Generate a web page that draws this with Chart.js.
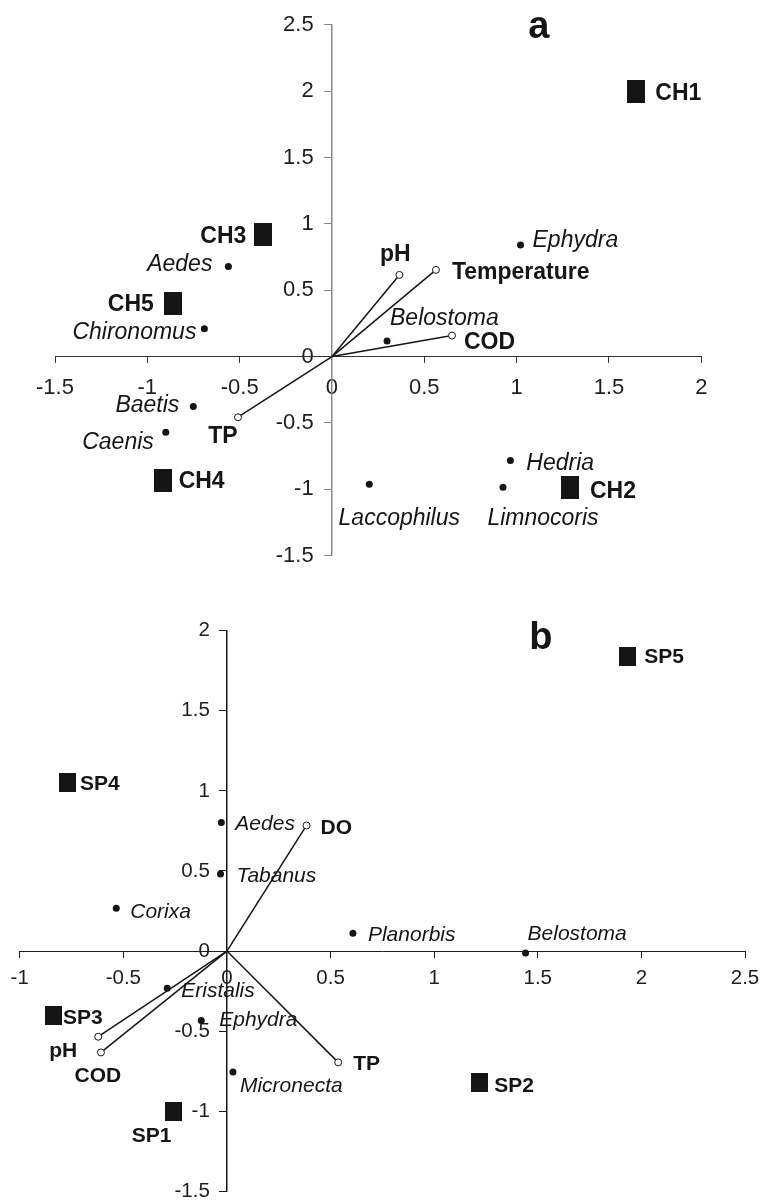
<!DOCTYPE html>
<html>
<head>
<meta charset="utf-8">
<script src="https://cdn.jsdelivr.net/npm/chart.js@4"></script>
<style>
  html, body { margin: 0; padding: 0; background: #fff; overflow: hidden; }
  #wrap { position: relative; width: 772px; height: 1202px; }
  canvas { position: absolute; left: 0; }
  #chart_a { top: 0; }
  #chart_b { top: 580px; }
</style>
</head>
<body>
<div id="wrap">
  <canvas id="chart_a" width="772" height="580"></canvas>
  <canvas id="chart_b" width="772" height="640"></canvas>
</div>
<script>
'use strict';

// パネル a
const sitesA = ['CH1', 'CH2', 'CH3', 'CH4', 'CH5'];
const sitesAX = [1.648, 1.289, -0.372, -0.917, -0.862];
const sitesAY = [2.0, -0.986, 0.916, -0.936, 0.397];

const speciesA = ['Aedes', 'Chironomus', 'Baetis', 'Caenis', 'Belostoma', 'Ephydra', 'Hedria', 'Laccophilus', 'Limnocoris'];
const speciesAX = [-0.561, -0.691, -0.751, -0.900, 0.298, 1.021, 0.966, 0.202, 0.926];
const speciesAY = [0.678, 0.209, -0.377, -0.570, 0.118, 0.841, -0.783, -0.961, -0.984];

const envA = ['pH', 'Temperature', 'COD', 'TP'];
const envAX = [0.365, 0.563, 0.650, -0.509];
const envAY = [0.615, 0.653, 0.158, -0.457];

const ticksAX = [-1.5, -1, -0.5, 0, 0.5, 1, 1.5, 2];
const ticksAY = [-1.5, -1, -0.5, 0, 0.5, 1, 1.5, 2, 2.5];

// パネル b
const sitesB = ['SP1', 'SP2', 'SP3', 'SP4', 'SP5'];
const sitesBX = [-0.257, 1.217, -0.839, -0.767, 1.932];
const sitesBY = [-1.0, -0.822, -0.405, 1.053, 1.842];

const speciesB = ['Aedes', 'Tabanus', 'Corixa', 'Planorbis', 'Belostoma', 'Eristalis', 'Ephydra', 'Micronecta'];
const speciesBX = [-0.027, -0.031, -0.534, 0.608, 1.441, -0.288, -0.124, 0.029];
const speciesBY = [0.802, 0.481, 0.267, 0.111, -0.012, -0.232, -0.434, -0.755];

const envB = ['DO', 'pH', 'COD', 'TP'];
const envBX = [0.384, -0.621, -0.608, 0.537];
const envBY = [0.784, -0.535, -0.633, -0.695];

const ticksBX = [-1, -0.5, 0, 0.5, 1, 1.5, 2, 2.5];
const ticksBY = [-1.5, -1, -0.5, 0, 0.5, 1, 1.5, 2];

// ラベルの位置 (px) [dx, dy, align]
const offSitesA = [[19, 3, 'left'], [20, 4, 'left'], [-17, 2, 'right'], [16, 1, 'left'], [-19, 1, 'right']];
const offSpeciesA = [[-16, -2, 'right'], [-8, 4, 'right'], [-14, -1, 'right'], [-12, 10, 'right'],
  [3, -22, 'left'], [12, -4, 'left'], [16, 3, 'left'], [30, 34, 'center'], [40, 31, 'center']];
const offEnvA = [[-4, -20, 'center'], [16, 3, 'left'], [12, 7, 'left'], [-15, 19, 'center']];

const offSitesB = [[-22, 25, 'center'], [15, 3, 'left'], [10, 2, 'left'], [12, 2, 'left'], [17, 1, 'left']];
const offSpeciesB = [[14, 2, 'left'], [16, 2, 'left'], [14, 4, 'left'], [15, 2, 'left'],
  [2, -19, 'left'], [14, 3, 'left'], [18, 0, 'left'], [7, 14, 'left']];
const offEnvB = [[14, 3, 'left'], [-35, 14, 'center'], [-3, 24, 'center'], [15, 2, 'left']];

const FONT = '"Liberation Sans", Arial, sans-serif';
const INK = '#151515';

function block(w, h) {
  const c = document.createElement('canvas');
  c.width = w;
  c.height = h;
  const g = c.getContext('2d');
  g.fillStyle = INK;
  g.fillRect(0, 0, w, h);
  return c;
}

function pts(xs, ys) {
  return xs.map((x, i) => ({ x: x, y: ys[i] }));
}

const pointLabels = {
  id: 'pointLabels',
  afterDatasetsDraw(chart, args, opts) {
    const ctx = chart.ctx;
    chart.data.datasets.forEach((ds, i) => {
      if (!ds.names) return;
      const meta = chart.getDatasetMeta(i);
      ctx.save();
      ctx.font = ds.labelFont;
      ctx.fillStyle = INK;
      ctx.textBaseline = 'middle';
      ds.names.forEach((name, j) => {
        if (!name) return;
        const el = meta.data[j];
        const o = ds.offsets[j];
        ctx.textAlign = o[2];
        ctx.fillText(name, el.x + o[0], el.y + o[1]);
      });
      ctx.restore();
    });
    if (opts.letter) {
      const sx = chart.scales.x, sy = chart.scales.y;
      ctx.save();
      ctx.font = 'bold 38px ' + FONT;
      ctx.fillStyle = INK;
      ctx.textAlign = 'center';
      ctx.textBaseline = 'middle';
      ctx.fillText(opts.letter, sx.getPixelForValue(opts.at[0]), sy.getPixelForValue(opts.at[1]) + 3);
      ctx.restore();
    }
  }
};

function vectorSets(names, xs, ys, offs, font) {
  return names.map((n, i) => ({
    type: 'line',
    data: [{ x: 0, y: 0 }, { x: xs[i], y: ys[i] }],
    borderColor: INK,
    borderWidth: 1.5,
    pointRadius: [0, 3.5],
    pointBackgroundColor: '#fff',
    pointBorderColor: INK,
    pointBorderWidth: 1,
    names: [null, n],
    offsets: [null, offs[i]],
    labelFont: font
  }));
}

function makeChart(id, cfg) {
  const ctx = document.getElementById(id).getContext('2d');
  const tickFont = { family: FONT, size: cfg.tickSize };
  return new Chart(ctx, {
    type: 'scatter',
    data: {
      datasets: [
        {
          data: pts(cfg.sx, cfg.sy),
          pointStyle: block(cfg.blockW, cfg.blockH),
          pointRadius: 10,
          names: cfg.sites,
          offsets: cfg.offSites,
          labelFont: 'bold ' + cfg.labelSize + 'px ' + FONT
        },
        {
          data: pts(cfg.px, cfg.py),
          pointRadius: 3.5,
          pointBackgroundColor: INK,
          pointBorderWidth: 0,
          names: cfg.species,
          offsets: cfg.offSpecies,
          labelFont: 'italic ' + cfg.labelSize + 'px ' + FONT
        }
      ].concat(vectorSets(cfg.env, cfg.ex, cfg.ey, cfg.offEnv, 'bold ' + cfg.labelSize + 'px ' + FONT))
    },
    options: {
      responsive: false,
      animation: false,
      devicePixelRatio: 1,
      layout: { padding: cfg.padding },
      plugins: {
        legend: { display: false },
        tooltip: { enabled: false },
        pointLabels: { letter: cfg.letter, at: cfg.letterAt }
      },
      scales: {
        x: {
          type: 'linear',
          min: cfg.tx[0],
          max: cfg.tx[cfg.tx.length - 1],
          position: { y: 0 },
          afterBuildTicks: s => { s.ticks = cfg.tx.map(v => ({ value: v })); },
          grid: { drawOnChartArea: false, tickLength: 6, color: cfg.xColor, lineWidth: 1 },
          border: { color: cfg.xColor, width: 1 },
          ticks: { font: tickFont, color: '#1e1e1e', padding: cfg.xPad, maxRotation: 0, autoSkip: false, callback: v => String(v) }
        },
        y: {
          type: 'linear',
          min: cfg.ty[0],
          max: cfg.ty[cfg.ty.length - 1],
          position: { x: 0 },
          afterBuildTicks: s => { s.ticks = cfg.ty.map(v => ({ value: v })); },
          grid: { drawOnChartArea: false, tickLength: 7, color: cfg.yColor, lineWidth: 1 },
          border: { color: cfg.yColor, width: 1.5 },
          // 中央配置の軸はpaddingが効かないので空白で離す
          ticks: { font: tickFont, color: '#1e1e1e', autoSkip: false, callback: v => String(v) + '   ' }
        }
      }
    },
    plugins: [pointLabels]
  });
}

makeChart('chart_a', {
  sites: sitesA, sx: sitesAX, sy: sitesAY, offSites: offSitesA,
  species: speciesA, px: speciesAX, py: speciesAY, offSpecies: offSpeciesA,
  env: envA, ex: envAX, ey: envAY, offEnv: offEnvA,
  tx: ticksAX, ty: ticksAY,
  blockW: 18, blockH: 23,
  tickSize: 22, labelSize: 23,
  xColor: '#333', yColor: '#888', xPad: 12,
  padding: { left: 55, right: 70.7, top: 24.7, bottom: 24.3 },
  letter: 'a', letterAt: [1.12, 2.5]
});

makeChart('chart_b', {
  sites: sitesB, sx: sitesBX, sy: sitesBY, offSites: offSitesB,
  species: speciesB, px: speciesBX, py: speciesBY, offSpecies: offSpeciesB,
  env: envB, ex: envBX, ey: envBY, offEnv: offEnvB,
  tx: ticksBX, ty: ticksBY,
  blockW: 17, blockH: 19,
  tickSize: 20.5, labelSize: 21,
  xColor: '#1a1a1a', yColor: '#1a1a1a', xPad: 9,
  padding: { left: 19.7, right: 27, top: 50.7, bottom: 28.7 },
  letter: 'b', letterAt: [1.515, 1.97]
});
</script>
</body>
</html>
